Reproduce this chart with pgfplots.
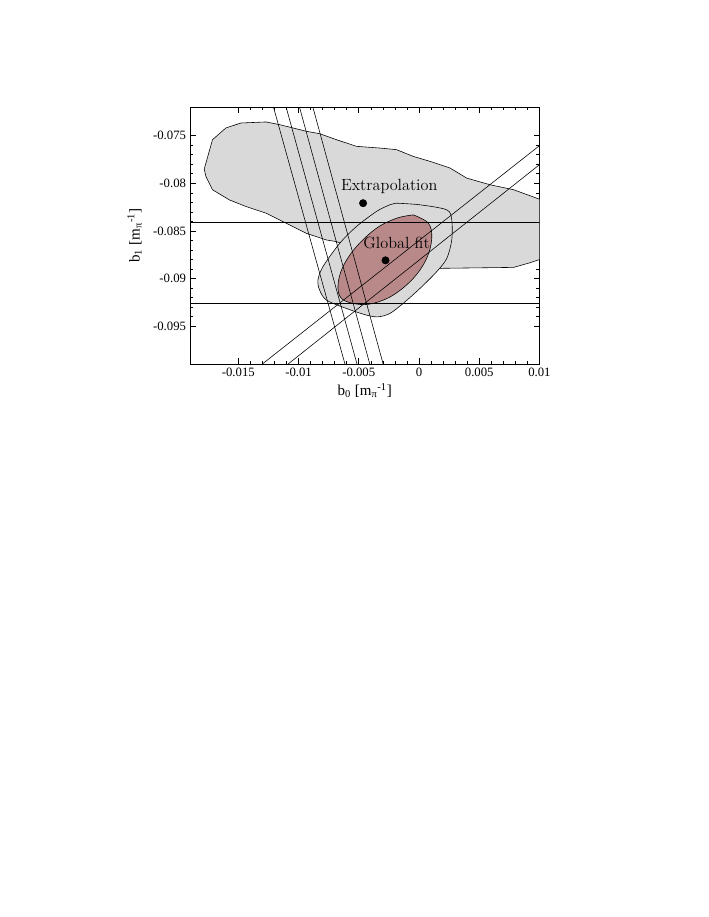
\documentclass[border=0pt]{standalone}
\usepackage{fontspec}
\setmainfont{Liberation Serif}
\newfontfamily\lmfont{Latin Modern Roman}
\usepackage{pgfplots}
\pgfplotsset{compat=1.18}

\definecolor{regred}{RGB}{185,137,137}
\definecolor{reggray}{RGB}{217,217,217}

\begin{document}
\begin{tikzpicture}
\path[use as bounding box] (0,0) rectangle (612pt,792pt);
\begin{axis}[
    at={(164.2pt,477.4pt)}, anchor=south west,
    width=301.7pt, height=222.1pt, scale only axis,
    xmin=-0.019, xmax=0.01,
    ymin=-0.099, ymax=-0.072,
    scaled ticks=false,
    xtick={-0.015,-0.01,-0.005,0,0.005,0.01},
    xticklabels={-0.015,-0.01,-0.005,0,0.005,0.01},
    ytick={-0.095,-0.09,-0.085,-0.08,-0.075},
    yticklabels={-0.095,-0.09,-0.085,-0.08,-0.075},
    minor x tick num=4, minor y tick num=4,
    tick align=inside,
    major tick length=5pt, minor tick length=2.8pt,
    tick style={black, line width=0.5pt},
    axis line style={line width=0.7pt},
    ticklabel style={font=\fontsize{11}{13}\selectfont},
    /pgf/number format/assume math mode=true,
    xlabel={b\textsubscript{0} [m\textsubscript{π}\textsuperscript{-1}]},
    ylabel={b\textsubscript{1} [m\textsubscript{π}\textsuperscript{-1}]},
    label style={font=\fontsize{13}{15}\selectfont},
    xlabel style={yshift=1pt},
    ylabel style={yshift=3pt},
]

% outer region (extrapolation)
\addplot[draw=black, line width=0.5pt, fill=reggray] coordinates {
    (-0.01783,-0.07851) (-0.01714,-0.07542) (-0.01603,-0.07419) (-0.01478,-0.07367)
    (-0.01269,-0.07356) (-0.01158,-0.07384) (-0.00936,-0.07454) (-0.00825,-0.07479)
    (-0.00686,-0.07542) (-0.00519,-0.07612) (-0.00325,-0.07630) (-0.00186,-0.07647)
    (-0.00047,-0.07718) (0.00092,-0.07770) (0.00258,-0.07840) (0.00397,-0.07946)
    (0.00592,-0.08016) (0.00786,-0.08068) (0.01050,-0.08190) (0.01050,-0.08780)
    (0.00925,-0.08833) (0.00786,-0.08883) (0.00175,-0.08893) (-0.00047,-0.08840)
    (-0.00408,-0.08735) (-0.00686,-0.08612) (-0.00769,-0.08595) (-0.00936,-0.08525)
    (-0.01103,-0.08419) (-0.01269,-0.08314) (-0.01436,-0.08244) (-0.01575,-0.08174)
    (-0.01714,-0.08068) (-0.01769,-0.07928) (-0.01783,-0.07851)
};

% middle region (global fit, outer)
\addplot[smooth, tension=0.5, draw=black, line width=0.5pt, fill=reggray] coordinates {
    (-0.00186,-0.08209) (0.00008,-0.08226) (0.00231,-0.08279) (0.00272,-0.08384)
    (0.00272,-0.08595) (0.00231,-0.08788) (0.00147,-0.08928) (0.00008,-0.09104)
    (-0.00131,-0.09261) (-0.00242,-0.09367) (-0.00339,-0.09402) (-0.00436,-0.09384)
    (-0.00603,-0.09314) (-0.00769,-0.09226) (-0.00825,-0.09121) (-0.00839,-0.09016)
    (-0.00797,-0.08875) (-0.00658,-0.08630) (-0.00519,-0.08454) (-0.00353,-0.08296)
    (-0.00242,-0.08226) (-0.00186,-0.08209)
};

% inner region (global fit)
\addplot[smooth, tension=0.6, draw=black, line width=0.5pt, fill=regred] coordinates {
    (-0.00047,-0.08332) (0.00078,-0.08419) (0.00106,-0.08577) (0.00064,-0.08788)
    (-0.00047,-0.08998) (-0.00214,-0.09174) (-0.00381,-0.09261) (-0.00519,-0.09268)
    (-0.00644,-0.09209) (-0.00672,-0.09068) (-0.00631,-0.08875) (-0.00519,-0.08665)
    (-0.00353,-0.08472) (-0.00186,-0.08367) (-0.00047,-0.08332)
};

% horizontal bands
\addplot[black, line width=0.5pt] coordinates {(-0.02,-0.0841) (0.011,-0.0841)};
\addplot[black, line width=0.5pt] coordinates {(-0.02,-0.0926) (0.011,-0.0926)};

% rising bands
\addplot[black, line width=0.5pt] coordinates {(-0.01303,-0.099) (0.01,-0.07605)};
\addplot[black, line width=0.5pt] coordinates {(-0.01089,-0.099) (0.01,-0.07805)};

% steep bands
\addplot[black, line width=0.5pt] coordinates {(-0.01208,-0.072) (-0.00614,-0.099)};
\addplot[black, line width=0.5pt] coordinates {(-0.01103,-0.072) (-0.00514,-0.099)};
\addplot[black, line width=0.5pt] coordinates {(-0.00992,-0.072) (-0.00408,-0.099)};
\addplot[black, line width=0.5pt] coordinates {(-0.00881,-0.072) (-0.00297,-0.099)};

% central values
\addplot[only marks, mark=*, mark size=3.2pt, black] coordinates {
    (-0.00464,-0.08209) (-0.00278,-0.08809)
};

\node[anchor=base, inner sep=0pt, font=\lmfont\fontsize{14}{16}\selectfont]
    at (axis cs:-0.00247,-0.08076) {Extrapolation};
\node[anchor=base, inner sep=0pt, font=\lmfont\fontsize{14}{16}\selectfont]
    at (axis cs:-0.00186,-0.08682) {Global fit};
\end{axis}
\end{tikzpicture}
\end{document}
